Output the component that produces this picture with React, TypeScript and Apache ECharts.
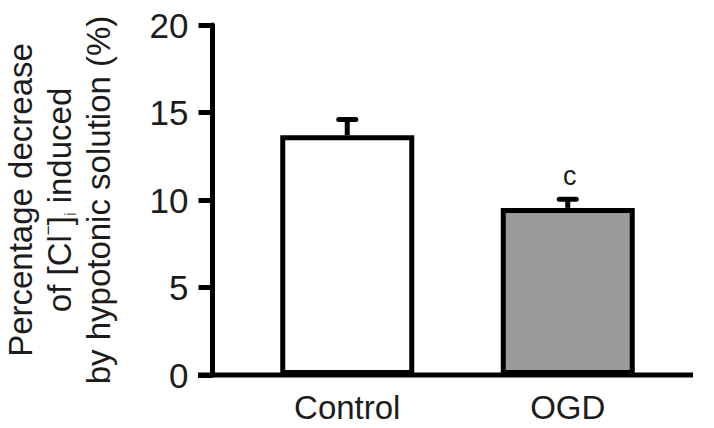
import React, { useEffect, useRef } from "react";
import * as echarts from "echarts";

const categories = ["Control", "OGD"];
const means = [13.7, 9.55];
const errors = [0.9, 0.5];
const sigLabels = ["", "c"];
const yTicks = [0, 5, 10, 15, 20];

const FONT = "'Liberation Sans', Arial, Helvetica, sans-serif";
const INK = "#1c1c1c";

export default function App() {
  const ref = useRef<HTMLDivElement>(null);

  useEffect(() => {
    if (!ref.current) return;
    const chart = echarts.init(ref.current, null, { renderer: "svg" });
    const option: any = {
      animation: false,
      backgroundColor: "#ffffff",
      grid: {
        left: 237,
        right: 36,
        top: 25,
        bottom: 53,
        containLabel: false,
        outerBoundsMode: "none",
      },
      xAxis: {
        type: "category",
        data: categories,
        axisLine: { show: false },
        axisTick: { show: false },
        axisLabel: { fontSize: 33, fontFamily: FONT, color: INK, margin: 16 },
      },
      yAxis: {
        type: "value",
        min: yTicks[0],
        max: yTicks[yTicks.length - 1],
        interval: 5,
        offset: 24.5,
        splitLine: { show: false },
        axisLine: { show: true, lineStyle: { color: "#000", width: 5 } },
        axisTick: { show: true, length: 14, lineStyle: { color: "#000", width: 5 } },
        axisLabel: { fontSize: 35, fontFamily: FONT, color: INK, margin: 24 },
        name:
          "{a|Percentage decrease}\n{a|of [Cl}{sup|−}{a|]}{sub|i}{a| induced}\n{a|by hypotonic solution (%)}",
        nameLocation: "middle",
        nameGap: 95,
        nameRotate: 90,
        nameTextStyle: {
          fontSize: 33,
          fontFamily: FONT,
          color: INK,
          lineHeight: 39,
          rich: {
            a: { fontSize: 33, fontFamily: FONT, color: INK, lineHeight: 39 },
            sup: { fontSize: 17, fontFamily: FONT, color: INK, lineHeight: 21, verticalAlign: "top" },
            sub: { fontSize: 16, fontFamily: FONT, color: "#777", lineHeight: 13, verticalAlign: "bottom" },
          },
        },
      },
      series: [
        {
          type: "bar",
          data: means.map((v, i) => ({
            value: v,
            itemStyle: { color: i === 0 ? "#ffffff" : "#9a9a9a", borderColor: "#000", borderWidth: 5 },
          })),
          barWidth: 134,
        },
        {
          type: "custom",
          data: means.map((m, i) => [i, m, errors[i]]),
          z: 5,
          renderItem: (params: any, api: any) => {
            const i = api.value(0);
            const m = api.value(1);
            const e = api.value(2);
            const base = api.coord([i, m]);
            const top = api.coord([i, m + e]);
            const half = 8.5;
            const children: any[] = [
              {
                type: "line",
                shape: { x1: base[0], y1: base[1], x2: top[0], y2: top[1] },
                style: { stroke: "#000", lineWidth: 5 },
              },
              {
                type: "line",
                shape: { x1: top[0] - half, y1: top[1], x2: top[0] + half, y2: top[1] },
                style: { stroke: "#000", lineWidth: 5, lineCap: "round" },
              },
            ];
            const lbl = sigLabels[params.dataIndex];
            if (lbl) {
              children.push({
                type: "text",
                style: {
                  x: top[0] + 2,
                  y: top[1] - 10,
                  text: lbl,
                  fontSize: 27,
                  fontFamily: FONT,
                  fill: INK,
                  align: "center",
                  verticalAlign: "bottom",
                },
              });
            }
            return { type: "group", children };
          },
        },
      ],
      graphic: [
        {
          type: "line",
          shape: { x1: 198, y1: 375, x2: 693, y2: 375 },
          style: { stroke: "#000", lineWidth: 5 },
          z: 10,
        },
      ],
    };
    chart.setOption(option);
    return () => chart.dispose();
  }, []);

  return (
    <div
      ref={ref}
      style={{ width: 714, height: 428, position: "absolute", left: 0, top: 0, background: "#fff" }}
    />
  );
}
